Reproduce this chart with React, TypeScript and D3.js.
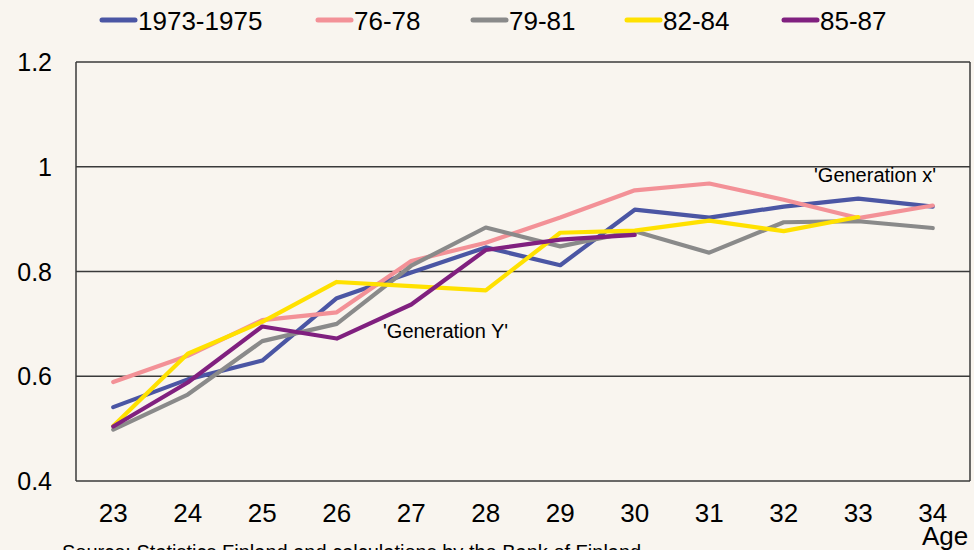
import React from "react";
import * as d3 from "d3";

const ages = ["23", "24", "25", "26", "27", "28", "29", "30", "31", "32", "33", "34"];
const seriesNames = ["1973-1975", "76-78", "79-81", "82-84", "85-87"];
const s1973 = [0.541, 0.594, 0.63, 0.749, 0.798, 0.846, 0.812, 0.918, 0.903, 0.924, 0.939, 0.924];
const s7678 = [0.589, 0.639, 0.707, 0.722, 0.82, 0.855, 0.903, 0.955, 0.968, 0.937, 0.902, 0.926];
const s7981 = [0.498, 0.565, 0.667, 0.7, 0.811, 0.884, 0.848, 0.877, 0.836, 0.894, 0.896, 0.883];
const s8284 = [0.505, 0.643, 0.704, 0.78, 0.772, 0.764, 0.874, 0.878, 0.897, 0.877, 0.904];
const s8587 = [0.504, 0.588, 0.695, 0.672, 0.737, 0.841, 0.861, 0.87];
const yTicks = [0.4, 0.6, 0.8, 1, 1.2];
const yTickLabels = ["0.4", "0.6", "0.8", "1", "1.2"];
const colors = ["#4B56A4", "#F39197", "#8A8A8A", "#FFE100", "#80207F"];

const W = 974, H = 550;
const left = 76, right = 970, top = 62, bottom = 481;

export default function App() {
  const x = d3.scaleBand<string>().domain(ages).range([left, right]);
  const y = d3.scaleLinear().domain([0.4, 1.2]).range([bottom, top]);
  const allSeries = [s1973, s7678, s7981, s8284, s8587];
  const line = d3
    .line<number>()
    .x((_, i) => (x(ages[i]) as number) + x.bandwidth() / 2)
    .y((d) => y(d));

  const legendX = [100, 316, 471, 625, 782];
  const font = "Arial, 'Liberation Sans', sans-serif";

  return (
    <svg
      width={W}
      height={H}
      style={{ position: "absolute", left: 0, top: 0, background: "#F9F5EF" }}
      fontFamily={font}
    >
      <rect x={0} y={0} width={W} height={H} fill="#F9F5EF" />
      {/* grid lines */}
      {yTicks.map((t) => (
        <line key={t} x1={left} x2={right} y1={y(t)} y2={y(t)} stroke="#3a3a3a" strokeWidth={1.3} />
      ))}
      {/* frame */}
      <line x1={left} x2={left} y1={top} y2={bottom} stroke="#3a3a3a" strokeWidth={1.5} />
      <line x1={right} x2={right} y1={top} y2={bottom} stroke="#3a3a3a" strokeWidth={1.5} />
      {/* y labels */}
      {yTicks.map((t, i) => (
        <text key={t} x={52} y={y(t) + 9} textAnchor="end" fontSize={25} fill="#000">
          {yTickLabels[i]}
        </text>
      ))}
      {/* x labels */}
      {ages.map((a) => (
        <text key={a} x={(x(a) as number) + x.bandwidth() / 2} y={522} textAnchor="middle" fontSize={26} fill="#000">
          {a}
        </text>
      ))}
      <text x={922} y={545} fontSize={26} fill="#000">Age</text>
      {/* lines */}
      {allSeries.map((s, i) => (
        <path key={i} d={line(s) || ""} fill="none" stroke={colors[i]} strokeWidth={4.2} strokeLinejoin="round" strokeLinecap="round" />
      ))}
      {/* annotations */}
      <text x={383} y={338} fontSize={20} fill="#000">'Generation Y'</text>
      <text x={814} y={182} fontSize={20} fill="#000">'Generation x'</text>
      {/* legend */}
      {seriesNames.map((n, i) => (
        <g key={n}>
          <line x1={legendX[i] + 2} x2={legendX[i] + 35} y1={20} y2={20} stroke={colors[i]} strokeWidth={5} strokeLinecap="round" />
          <text x={legendX[i] + 38} y={30} fontSize={26} fill="#000">{n}</text>
        </g>
      ))}
      <text x={62} y={559} fontSize={20} fill="#000">
        Source: Statistics Finland and calculations by the Bank of Finland
      </text>
    </svg>
  );
}
